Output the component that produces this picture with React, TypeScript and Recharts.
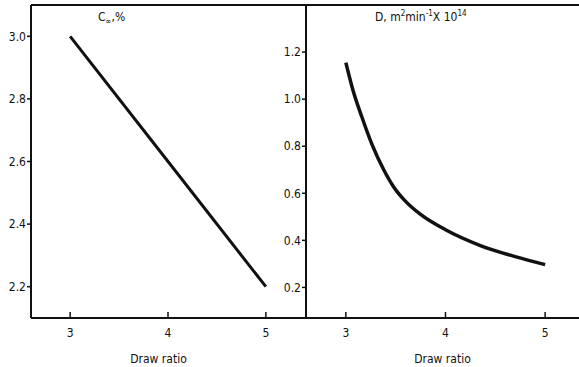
import React from "react";
import { LineChart, Line, XAxis, YAxis, ReferenceLine } from "recharts";

// shared x ticks (draw ratio)
const ratioTicks = [3, 4, 5];

// left panel: equilibrium content C∞ (%)
const cRatio = [3, 4, 5];
const cInf = [3.0, 2.6, 2.2];
const cTicks = [2.2, 2.4, 2.6, 2.8, 3.0];

// right panel: diffusion coefficient D (m² min⁻¹ × 10¹⁴)
const dRatio = [3, 3.07, 3.16, 3.26, 3.38, 3.48, 3.59, 3.75, 4, 4.35, 4.7, 5];
const dCoef = [1.155, 1.04, 0.925, 0.81, 0.7, 0.627, 0.57, 0.51, 0.445, 0.378, 0.331, 0.297];
const dTicks = [0.2, 0.4, 0.6, 0.8, 1.0, 1.2];

const INK = "#111";
const FONT = "'Liberation Sans Narrow', 'DejaVu Sans Condensed', 'DejaVu Sans', sans-serif";
const tickStyle = { fill: INK, fontSize: 12, fontFamily: FONT };

const leftData = cRatio.map((x, i) => ({ x, y: cInf[i] }));
const rightData = dRatio.map((x, i) => ({ x, y: dCoef[i] }));

export default function App() {
  return (
    <div style={{ position: "absolute", left: 0, top: 0, width: 579, height: 367, background: "#fff", overflow: "hidden" }}>
      {/* left panel */}
      <div style={{ position: "absolute", left: 0, top: 0 }}>
        <LineChart width={306} height={367} data={leftData} margin={{ top: 5, right: 0, bottom: 0, left: 0 }}>
          <XAxis
            dataKey="x"
            type="number"
            domain={[2.6, 5.41]}
            allowDataOverflow
            ticks={ratioTicks}
            height={49}
            tickSize={-6}
            tickMargin={16}
            tick={tickStyle}
            axisLine={{ stroke: INK, strokeWidth: 2 }}
            tickLine={{ stroke: INK, strokeWidth: 1.5 }}
            label={{ value: "Draw ratio", position: "insideBottom", offset: 4, dx: -10, style: { fill: INK, fontSize: 12, fontFamily: FONT } }}
          />
          <YAxis
            type="number"
            domain={[2.1, 3.1]}
            allowDataOverflow
            ticks={cTicks}
            tickFormatter={(v: number) => v.toFixed(1)}
            width={31}
            tickSize={4}
            tickMargin={1}
            tick={tickStyle}
            axisLine={{ stroke: INK, strokeWidth: 2 }}
            tickLine={{ stroke: INK, strokeWidth: 1.5 }}
          />
          <ReferenceLine y={3.1} stroke={INK} strokeWidth={2} />
          <Line dataKey="y" type="linear" stroke={INK} strokeWidth={3} dot={false} isAnimationActive={false} />
        </LineChart>
      </div>

      {/* right panel */}
      <div style={{ position: "absolute", left: 275, top: 0 }}>
        <LineChart width={304} height={367} data={rightData} margin={{ top: 5, right: 0, bottom: 0, left: 0 }}>
          <XAxis
            dataKey="x"
            type="number"
            domain={[2.6, 5.34]}
            allowDataOverflow
            ticks={ratioTicks}
            height={49}
            tickSize={-6}
            tickMargin={16}
            tick={tickStyle}
            axisLine={{ stroke: INK, strokeWidth: 2 }}
            tickLine={{ stroke: INK, strokeWidth: 1.5 }}
            label={{ value: "Draw ratio", position: "insideBottom", offset: 4, style: { fill: INK, fontSize: 12, fontFamily: FONT } }}
          />
          <YAxis
            type="number"
            domain={[0.07, 1.4]}
            allowDataOverflow
            ticks={dTicks}
            tickFormatter={(v: number) => v.toFixed(1)}
            width={31}
            tickSize={4}
            tickMargin={1}
            tick={tickStyle}
            axisLine={{ stroke: INK, strokeWidth: 2 }}
            tickLine={{ stroke: INK, strokeWidth: 1.5 }}
          />
          <ReferenceLine y={1.4} stroke={INK} strokeWidth={2} />
          <Line dataKey="y" type="monotone" stroke={INK} strokeWidth={3.5} dot={false} isAnimationActive={false} />
        </LineChart>
      </div>

      {/* panel titles */}
      <div style={{ position: "absolute", left: 98, top: 10, fontFamily: FONT, fontSize: 12, color: INK, whiteSpace: "nowrap" }}>
        C<sub style={{ fontSize: 8 }}>∞</sub>,%
      </div>
      <div style={{ position: "absolute", left: 375, top: 9, fontFamily: FONT, fontSize: 12, color: INK, whiteSpace: "nowrap" }}>
        D, m<sup style={{ fontSize: 8 }}>2</sup>min<sup style={{ fontSize: 8 }}>-1</sup>X 10<sup style={{ fontSize: 8 }}>14</sup>
      </div>
    </div>
  );
}
